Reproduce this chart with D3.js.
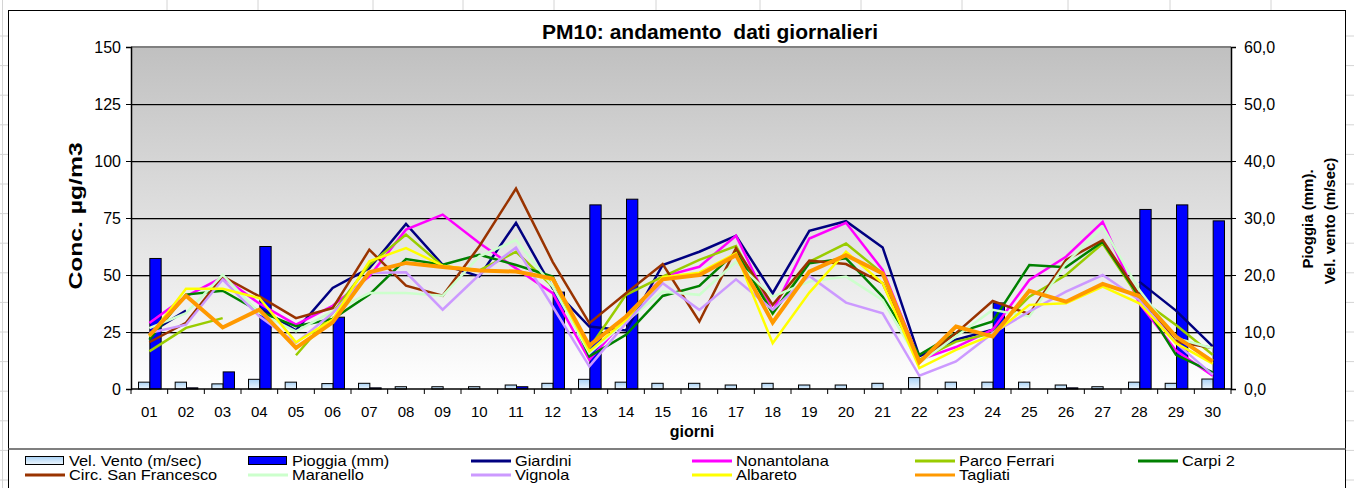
<!DOCTYPE html>
<html><head><meta charset="utf-8">
<script src="https://cdn.jsdelivr.net/npm/d3@7"></script>
<style>
html,body{margin:0;padding:0;background:#fff;}
svg text{font-family:"Liberation Sans",Arial,sans-serif;fill:#000;}
</style></head>
<body><svg id="c" width="1354" height="488"></svg>
<script>
const days = ["01","02","03","04","05","06","07","08","09","10","11","12","13","14","15","16","17","18","19","20","21","22","23","24","25","26","27","28","29","30"];
const leftTicks = [0,25,50,75,100,125,150];
const rightTicks = [0,10,20,30,40,50,60];

const velVento = [1.2,1.2,0.9,1.7,1.2,0.95,1.0,0.4,0.4,0.4,0.7,1.0,1.7,1.2,1.0,1.0,0.7,1.0,0.7,0.7,1.0,2.0,1.2,1.2,1.2,0.7,0.4,1.2,1.0,1.75];
const pioggia  = [22.9,0.2,3.0,25.0,0,12.6,0.2,0,0,0,0.4,17,32.3,33.3,0,0,0,0,0,0,0,0,0,15.1,0,0.2,0,31.5,32.3,29.5];

const giardini = [24.5,34.4,null,35.5,25.7,44.3,53,72.4,54.5,49.4,72.9,44.2,27.4,25.7,54.4,60.2,67.2,42,69.4,73.6,62.1,14.3,21.6,26,null,null,null,47.1,34.4,18.7];
const nonantolana = [28.9,40.6,49,37.5,28.2,36.5,49.4,69.9,76.5,64,52.9,42,12.8,31,49.3,53.6,67.2,34,66,72.9,52.2,12.8,18.4,26,47.8,58,73.3,37.6,16.9,5.8];
const parcoFerrari = [16.5,26.8,31.1,null,14.8,33.3,54.5,67.7,54,52,60.2,44.9,17.9,41.3,49.3,56.6,62.7,33,55.8,63.8,50.7,12.8,20.8,24.5,40.5,50,63.8,39.8,28.1,15];
const carpi2 = [21.6,41.4,43.1,34,27.5,30.7,41.4,57,54.5,58.9,54.4,49.3,14.3,23.8,40.8,45.2,60.2,33.2,55.1,57.3,40.5,15,24.5,29.6,54.4,53.4,64.6,40.5,15,7.3];
const sanFrancesco = [20.5,29,49.4,40.6,31.1,35.5,61.1,45.3,40.9,62.6,87.9,55.8,28.9,42,54.8,29.6,61.7,36.9,56.3,54.8,46.4,12.1,24.5,38.6,32.8,56.6,65.3,41.3,20.8,18];
const maranello = [26.7,33.3,50.1,33.3,25.3,34,42.1,42.1,40.9,58.2,65.3,45,15.7,29.6,42.7,41.3,55.8,40.5,47.1,49.3,39,11.4,23,34.7,31.8,55.1,71.1,43.4,22.3,17.9];
const vignola = [24.6,28.2,48,31.9,20.2,33.3,50.9,51.2,34.8,50.1,62,36.2,9.9,28.9,46.4,34.7,48.1,34.7,49.6,37.9,33.2,5.8,12.1,24.5,34,42.7,50,39,20.1,6.3];
const albareto = [23,44,44,39.9,20.5,30.4,56,61.8,54.1,52,51.5,47.8,16.5,30.3,49,51,59.5,20.1,42.3,60.2,46.4,9.2,17.2,23.8,36.9,37.6,44.9,37.6,20.1,11.1];
const tagliati = [23.4,40.9,27,34.8,18,29.2,51.2,55.3,53.5,52,51.5,48.5,19,31.8,48.1,50,58.7,29.2,51.5,58.7,50.7,11.7,27.4,23,43.1,38.3,46.1,40.8,23,12.1];

const lineSeries = [
  {name:"Giardini", values:giardini, color:"#000080", w:2.5},
  {name:"Nonantolana", values:nonantolana, color:"#ff00ff", w:2.5},
  {name:"Parco Ferrari", values:parcoFerrari, color:"#99cc00", w:2.5},
  {name:"Carpi 2", values:carpi2, color:"#008000", w:2.5},
  {name:"Circ. San Francesco", values:sanFrancesco, color:"#993300", w:2.5},
  {name:"Maranello", values:maranello, color:"#ccffcc", w:2.5},
  {name:"Vignola", values:vignola, color:"#cc99ff", w:2.5},
  {name:"Albareto", values:albareto, color:"#ffff00", w:2.5},
  {name:"Tagliati", values:tagliati, color:"#ff9900", w:4}
];

const svg = d3.select("#c");
const defs = svg.append("defs");
const bg = defs.append("linearGradient").attr("id","bg").attr("x1",0).attr("y1",0).attr("x2",0).attr("y2",1);
bg.append("stop").attr("offset","0%").attr("stop-color","#c0c0c0");
bg.append("stop").attr("offset","100%").attr("stop-color","#ffffff");
const vg = defs.append("linearGradient").attr("id","vv").attr("x1",0).attr("y1",0).attr("x2",0).attr("y2",1);
vg.append("stop").attr("offset","0%").attr("stop-color","#a9d2f5");
vg.append("stop").attr("offset","100%").attr("stop-color","#eef6fd");

// spreadsheet background lines
const colX = [167,258,373,463,554,656,760,861,962,1068,1170,1271];
svg.append("g").selectAll("line").data(colX).join("line")
  .attr("x1",d=>d).attr("x2",d=>d).attr("y1",0).attr("y2",10).attr("stroke","#d4d4d4");
const rowY = d3.range(36, 488, 29.6);
svg.append("g").selectAll("line").data(rowY).join("line")
  .attr("x1",0).attr("x2",8).attr("y1",d=>d).attr("y2",d=>d).attr("stroke","#d4d4d4");
svg.append("g").selectAll("line").data(rowY).join("line")
  .attr("x1",1346).attr("x2",1354).attr("y1",d=>d).attr("y2",d=>d).attr("stroke","#d4d4d4");
svg.append("line").attr("x1",2.5).attr("x2",2.5).attr("y1",0).attr("y2",488).attr("stroke","#d4d4d4");

// chart border
svg.append("rect").attr("x",8.5).attr("y",10.5).attr("width",1337).attr("height",490).attr("fill","#fff").attr("stroke","#000");

const L=131,R=1231,T=47,B=389;
const x = d3.scaleBand().domain(days).range([L,R]);
const y = d3.scaleLinear().domain([0,150]).range([B,T]);
const y2 = d3.scaleLinear().domain([0,60]).range([B,T]);
const xs = d3.scaleBand().domain(["v","p"]).range([0,x.bandwidth()]).paddingInner(0).paddingOuter(0.62);

svg.append("rect").attr("x",L).attr("y",T).attr("width",R-L).attr("height",B-T).attr("fill","url(#bg)");

// gridlines
const grid = svg.append("g");
grid.selectAll("line.s").data(leftTicks.filter(d=>d>0&&d<150)).join("line").attr("class","s")
  .attr("x1",L).attr("x2",R).attr("y1",d=>y(d)+1.5).attr("y2",d=>y(d)+1.5).attr("stroke","#a0a0a0");
grid.selectAll("line.g").data(leftTicks.filter(d=>d>0&&d<150)).join("line").attr("class","g")
  .attr("x1",L).attr("x2",R).attr("y1",d=>y(d)+0.5).attr("y2",d=>y(d)+0.5).attr("stroke","#000");
svg.append("line").attr("x1",L).attr("x2",R).attr("y1",T).attr("y2",T).attr("stroke","#808080").attr("stroke-width",2);

// bars
const bars = svg.append("g");
bars.selectAll("rect.v").data(days).join("rect").attr("class","v")
  .attr("x",d=>x(d)+xs("v")+0.5).attr("width",xs.bandwidth())
  .attr("y",(d,i)=>y2(velVento[i])).attr("height",(d,i)=>B-y2(velVento[i]))
  .attr("fill","url(#vv)").attr("stroke","#000").attr("stroke-width",1);
bars.selectAll("rect.p").data(days.filter((d,i)=>pioggia[i]>0)).join("rect").attr("class","p")
  .attr("x",d=>x(d)+xs("p")+0.5).attr("width",xs.bandwidth())
  .attr("y",d=>y2(pioggia[days.indexOf(d)])).attr("height",d=>B-y2(pioggia[days.indexOf(d)]))
  .attr("fill","#0000ff").attr("stroke","#000").attr("stroke-width",1);

// lines
const line = d3.line().defined(d=>d.v!=null).x(d=>x(d.d)+x.bandwidth()/2).y(d=>y(d.v));
svg.append("g").selectAll("path").data(lineSeries).join("path")
  .attr("d",s=>line(days.map((d,i)=>({d:d,v:s.values[i]}))))
  .attr("fill","none").attr("stroke",s=>s.color).attr("stroke-width",s=>s.w)
  .attr("stroke-linejoin","miter").attr("stroke-linecap","butt");

// axes
const ax = svg.append("g").attr("transform",`translate(${L},0)`)
  .call(d3.axisLeft(y).tickValues(leftTicks).tickSize(5).tickPadding(5).tickFormat(d3.format("d")));
const ax2 = svg.append("g").attr("transform",`translate(${R},0)`)
  .call(d3.axisRight(y2).tickValues(rightTicks).tickSize(5).tickPadding(8).tickFormat(d=>d3.format(".1f")(d).replace(".",",")));
const axb = svg.append("g").attr("transform",`translate(0,${B})`)
  .call(d3.axisBottom(x).tickSize(0).tickPadding(17));
[ax,ax2].forEach(a=>a.selectAll("text").attr("font-size",16));
axb.selectAll("text").attr("font-size",15);
[ax,ax2,axb].forEach(a=>{
  a.select(".domain").attr("stroke","#000").attr("stroke-width",1.5);
  a.selectAll(".tick line").attr("stroke","#000");
  a.selectAll("text").attr("font-family","Liberation Sans, Arial, sans-serif");
});
axb.select(".domain").remove();
svg.append("line").attr("x1",L).attr("x2",R).attr("y1",B).attr("y2",B).attr("stroke","#000").attr("stroke-width",1.5);
svg.append("g").selectAll("line").data(days.concat(["end"])).join("line")
  .attr("x1",d=>d==="end"?R:x(d)).attr("x2",d=>d==="end"?R:x(d))
  .attr("y1",B).attr("y2",B+5).attr("stroke","#000");

// titles
svg.append("text").attr("x",710).attr("y",39).attr("text-anchor","middle")
  .attr("font-size",21).attr("font-weight","bold").attr("xml:space","preserve").text("PM10: andamento  dati giornalieri");
svg.append("text").attr("transform","translate(82,216) rotate(-90) scale(1.3,1)").attr("text-anchor","middle")
  .attr("font-size",19).attr("font-weight","bold").text("Conc. µg/m3");
svg.append("text").attr("transform","translate(1313,219) rotate(-90)").attr("text-anchor","middle")
  .attr("font-size",15).attr("font-weight","bold").text("Pioggia (mm).");
svg.append("text").attr("transform","translate(1335,221) rotate(-90)").attr("text-anchor","middle")
  .attr("font-size",15).attr("font-weight","bold").text("Vel. vento (m/sec)");
svg.append("text").attr("x",692).attr("y",437).attr("text-anchor","middle")
  .attr("font-size",16).attr("font-weight","bold").text("giorni");

// legend
svg.append("line").attr("x1",8).attr("x2",1346).attr("y1",449).attr("y2",449).attr("stroke","#555").attr("stroke-width",1.5);
const legendItems = [
  {name:"Vel. Vento (m/sec)", type:"vv"},
  {name:"Pioggia (mm)", type:"p"}
].concat(lineSeries.map(s=>({name:s.name,type:"l",color:s.color,w:s.w})));
const colStart = [25,248,471,692,915,1138];
const lg = svg.append("g").selectAll("g").data(legendItems).join("g")
  .attr("transform",(d,i)=>`translate(${colStart[i%6]},${i<6?461:475})`);
lg.filter(d=>d.type==="vv").append("rect").attr("x",0.5).attr("y",-4.5).attr("width",38).attr("height",8).attr("fill","url(#vv)").attr("stroke","#000");
lg.filter(d=>d.type==="p").append("rect").attr("x",0.5).attr("y",-4.5).attr("width",38).attr("height",8).attr("fill","#0000ff").attr("stroke","#000");
lg.filter(d=>d.type==="l").append("line").attr("x1",0).attr("x2",40).attr("y1",0).attr("y2",0).attr("stroke",d=>d.color).attr("stroke-width",3);
lg.append("text").attr("transform","translate(44,5) scale(1.17,1)").attr("font-size",14).text(d=>d.name);
</script></body></html>
